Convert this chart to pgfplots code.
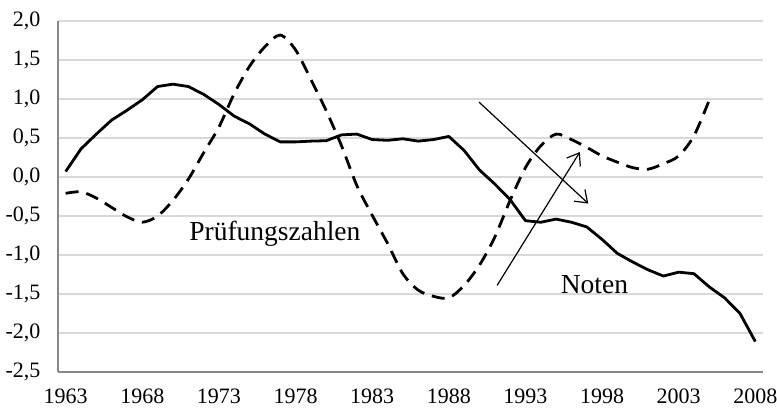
\documentclass[border=0pt]{standalone}
\usepackage{pgfplots}
\pgfplotsset{compat=1.18}
\usepackage{pgfplotstable}
\usepackage{fontspec}
\setmainfont{Liberation Serif}
\usetikzlibrary{arrows.meta}
\definecolor{axgray}{RGB}{137,137,137}
\definecolor{gridgray}{RGB}{217,217,217}
\pgfplotstableread{
year val
1963 0.07
1964 0.36
1965 0.55
1966 0.73
1967 0.855
1968 0.99
1969 1.16
1970 1.19
1971 1.16
1972 1.06
1973 0.93
1974 0.78
1975 0.68
1976 0.55
1977 0.45
1978 0.45
1979 0.46
1980 0.465
1981 0.54
1982 0.55
1983 0.48
1984 0.47
1985 0.49
1986 0.46
1987 0.48
1988 0.52
1989 0.34
1990 0.09
1991 -0.09
1992 -0.29
1993 -0.56
1994 -0.58
1995 -0.54
1996 -0.58
1997 -0.64
1998 -0.80
1999 -0.98
2000 -1.09
2001 -1.19
2002 -1.27
2003 -1.22
2004 -1.24
2005 -1.41
2006 -1.55
2007 -1.75
2008 -2.11
}\noten
\pgfplotstableread{
year val
1963 -0.21
1964 -0.19
1965 -0.27
1966 -0.39
1967 -0.51
1968 -0.58
1969 -0.50
1970 -0.30
1971 -0.03
1972 0.31
1973 0.64
1974 1.07
1975 1.42
1976 1.67
1977 1.82
1978 1.63
1979 1.25
1980 0.85
1981 0.40
1982 -0.11
1983 -0.49
1984 -0.85
1985 -1.24
1986 -1.45
1987 -1.53
1988 -1.55
1989 -1.39
1990 -1.13
1991 -0.77
1992 -0.30
1993 0.12
1994 0.40
1995 0.55
1996 0.48
1997 0.38
1998 0.27
1999 0.19
2000 0.12
2001 0.10
2002 0.17
2003 0.27
2004 0.53
2005 0.99
}\pruef
\begin{document}
\begin{tikzpicture}
\begin{axis}[
  scale only axis, width=705pt, height=351pt,
  xmin=1962.5, xmax=2008.5, ymin=-2.5, ymax=2,
  xtick={1963,1968,1973,1978,1983,1988,1993,1998,2003,2008},
  xticklabels={1963,1968,1973,1978,1983,1988,1993,1998,2003,2008},
  ytick={-2.5,-2,-1.5,-1,-0.5,0,0.5,1,1.5,2},
  yticklabels={{-2,5},{-2,0},{-1,5},{-1,0},{-0,5},{0,0},{0,5},{1,0},{1,5},{2,0}},
  axis lines=left,
  axis line style={-, draw=axgray, line width=1.3pt},
  major tick length=0pt,
  ymajorgrids, grid style={draw=gridgray, line width=1.2pt},
  tick label style={font=\fontsize{22}{24}\selectfont, text=black},
  yticklabel style={xshift=-14pt},
  xticklabel style={yshift=-13pt},
]
\addplot[black, line width=2.8pt, line join=round] table[x=year,y=val] {\noten};
\addplot[black, line width=2.8pt, smooth, tension=0.5, dash pattern=on 13pt off 8pt] table[x=year,y=val] {\pruef};
\draw[-{Straight Barb[length=11pt,width=16pt]}, line width=1.2pt] (axis cs:1989.97,0.96) -- (axis cs:1997.1,-0.34);
\draw[-{Straight Barb[length=11pt,width=16pt]}, line width=1.2pt] (axis cs:1991.15,-1.39) -- (axis cs:1996.55,0.32);
\node[font=\fontsize{27.5}{30}\selectfont] at (axis cs:1976.65,-0.73) {Prüfungszahlen};
\node[font=\fontsize{27.5}{30}\selectfont] at (axis cs:1997.5,-1.38) {Noten};
\end{axis}
\pgfresetboundingbox
\path[use as bounding box] ([xshift=-58pt,yshift=-37pt]current axis.south west) rectangle ([xshift=14pt,yshift=21pt]current axis.north east);
\end{tikzpicture}
\end{document}
